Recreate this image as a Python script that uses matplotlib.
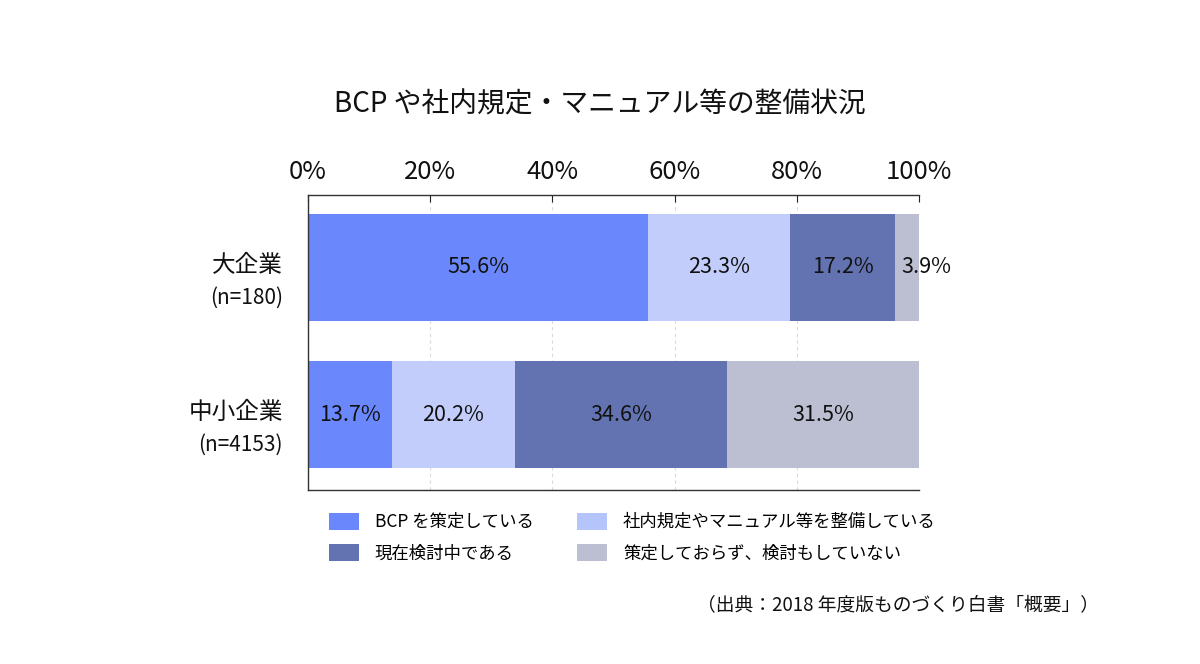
import numpy as np
import matplotlib
matplotlib.use('agg')
import matplotlib.pyplot as plt
from matplotlib.patches import Patch

plt.rcParams['font.family'] = ['Noto Sans CJK JP', 'DejaVu Sans']

# data
groups = ['大企業', '中小企業']
group_n = ['(n=180)', '(n=4153)']
series = ['BCP を策定している', '社内規定やマニュアル等を整備している',
          '現在検討中である', '策定しておらず、検討もしていない']
large = [55.6, 23.3, 17.2, 3.9]
sme = [13.7, 20.2, 34.6, 31.5]
colors = ['#6a88fc', '#c2cdfb', '#6373b1', '#bcbfd2']
legend_colors = ['#6a88fc', '#b6c4fc', '#6373b1', '#bcbfd2']
xticks = [0, 20, 40, 60, 80, 100]

title = 'BCP や社内規定・マニュアル等の整備状況'
source = '（出典：2018 年度版ものづくり白書「概要」）'

fig = plt.figure(figsize=(12, 6.64), dpi=100)
ax = fig.add_axes([0.2567, 0.262, 0.5092, 0.4443])

ypos = [1, 0]
vals = [large, sme]
for yi, row in zip(ypos, vals):
    left = 0
    for j, v in enumerate(row):
        ax.barh(yi, v, left=left, height=0.725, color=colors[j], zorder=2)
        cx = left + v / 2
        if v < 5:
            cx = left + v + 1.2
        ax.text(cx, yi, f'{v}%', ha='center', va='center', fontsize=15.5, color='#111111', zorder=3)
        left += v

ax.set_xlim(0, 100)
ax.set_ylim(-0.51, 1.49)
ax.set_xticks(xticks)
ax.set_xticklabels([f'{t}%' for t in xticks], fontsize=18.5)
ax.xaxis.tick_top()
ax.tick_params(axis='x', direction='in', length=5, width=0.8, pad=7, colors='#222222', labelcolor='#111111')
ax.set_yticks([])
ax.grid(axis='x', color='#dadada', linestyle=(0, (3, 3)), linewidth=0.8, zorder=0)
ax.set_axisbelow(True)
ax.spines['right'].set_visible(False)
for s in ['left', 'top', 'bottom']:
    ax.spines[s].set_color('#333333')
    ax.spines[s].set_linewidth(1.0)

for yi, g, n in zip(ypos, groups, group_n):
    ax.annotate(g, xy=(0, yi), xycoords=('axes fraction', 'data'), xytext=(-25, 2),
                textcoords='offset pixels', ha='right', va='center', fontsize=17, color='#111111')
    ax.annotate(n, xy=(0, yi), xycoords=('axes fraction', 'data'), xytext=(-25, -30),
                textcoords='offset pixels', ha='right', va='center', fontsize=15, color='#111111')

fig.text(0.5, 0.843, title, ha='center', va='center', fontsize=20, color='#111111')

order = [0, 2, 1, 3]
handles = [Patch(facecolor=legend_colors[i], edgecolor='none') for i in order]
labels = [series[i] for i in order]
fig.legend(handles, labels, ncol=2, loc='upper left', bbox_to_anchor=(0.261, 0.2515),
           frameon=False, fontsize=12.5, handlelength=1.75, handleheight=1.15,
           handletextpad=0.9, columnspacing=2.5, labelspacing=0.75)

fig.text(0.916, 0.088, source, ha='right', va='center', fontsize=13.5, color='#111111')

fig.savefig('out.png', dpi=100)
